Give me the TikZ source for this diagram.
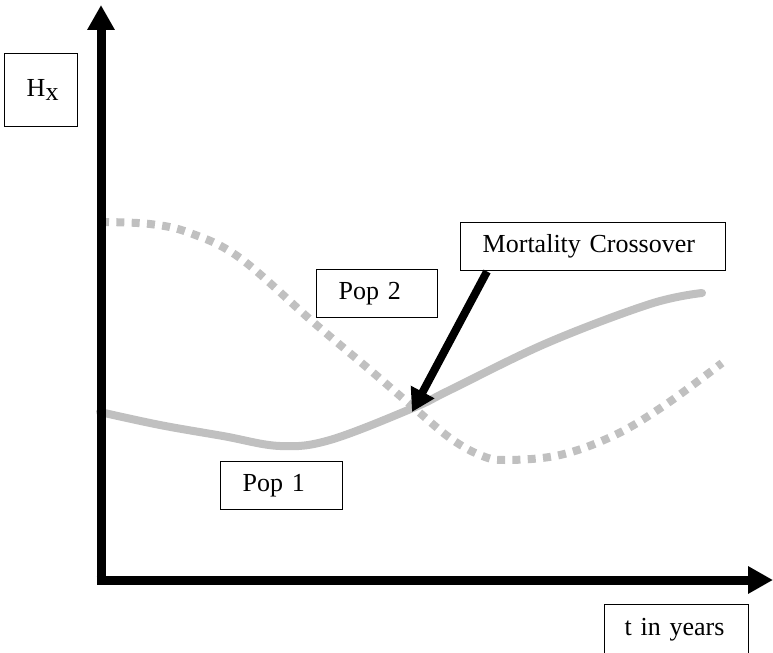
\documentclass[tikz,border=0pt]{standalone}
\usepackage{fontspec}
\setmainfont{Liberation Serif}
\usetikzlibrary{arrows.meta,calc}
\definecolor{popgray}{RGB}{192,192,192}
\begin{document}
\begin{tikzpicture}[x=0.75pt,y=-0.75pt,
  lbl/.style={draw, line width=1.1pt, anchor=north west, align=left, inner xsep=16.5pt, inner ysep=0pt, font=\fontsize{19.5}{22}\selectfont},
  axis/.style={line width=6.75pt, -{Triangle[length=18.75pt,width=19.5pt]}},
  pointer/.style={line width=6pt, -{Triangle[length=17pt,width=19pt]}},
  pop1/.style={line width=6pt, draw=popgray, line cap=round},
  pop2/.style={line width=6pt, draw=popgray, dash pattern=on 6pt off 5.5pt},
]
\useasboundingbox (0,0) rectangle (773,652);

% curves
\draw[pop2] plot[smooth, tension=0.6] coordinates {(101,222) (150,224) (190,233) (240,258) (313,322) (370,370) (413,407) (450,438) (480,455) (505,460) (560,455) (615,435) (665,405) (722,363)};
\draw[pop1] plot[smooth, tension=0.6] coordinates {(100,412) (160,425) (223,436) (280,446) (330,440) (413,408) (450,390) (547,343) (650,304) (702,293)};

% axes
\coordinate (O) at (101,580);
\coordinate (ytip) at (101,5);
\coordinate (xtip) at (773,580);
\draw[axis] ($(O)+(0,4.5)$) -- (ytip);
\draw[axis] ($(O)+(-4.5,0)$) -- (xtip);

% labels
\node[lbl, text width=21.75pt, minimum height=54.75pt] (hx) at (4,53) {H\raisebox{-0.15em}{x}};
\node[lbl, text width=165.75pt, minimum height=36pt] (mc) at (460,222) {Mortality Crossover};
\node[lbl, text width=57.75pt, minimum height=36pt] (p2) at (316,269) {Pop 2};
\node[lbl, text width=58.5pt, minimum height=36pt] (p1) at (220,461) {Pop 1};
\node[lbl, inner xsep=15pt, text width=78pt, minimum height=37.5pt] (ty) at (604,604) {t in years};

% crossover pointer
\coordinate (cross) at (412,412);
\draw[pointer] ($(mc.south west)+(27,0)$) -- (cross);
\end{tikzpicture}
\end{document}
